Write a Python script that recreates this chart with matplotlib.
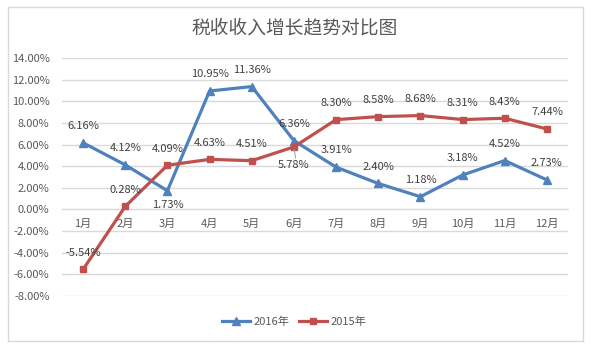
import matplotlib
matplotlib.use("Agg")
import matplotlib.pyplot as plt
from matplotlib.patches import Rectangle

plt.rcParams['font.family'] = ['Noto Sans CJK SC', 'DejaVu Sans']

months = ['1月', '2月', '3月', '4月', '5月', '6月', '7月', '8月', '9月', '10月', '11月', '12月']
y2016 = [6.16, 4.12, 1.73, 10.95, 11.36, 6.36, 3.91, 2.40, 1.18, 3.18, 4.52, 2.73]
y2015 = [-5.54, 0.28, 4.09, 4.63, 4.51, 5.78, 8.30, 8.58, 8.68, 8.31, 8.43, 7.44]
yticks = [-8, -6, -4, -2, 0, 2, 4, 6, 8, 10, 12, 14]

blue = '#4F81BD'
red = '#C0504D'
txt = '#404040'

fig = plt.figure(figsize=(5.99, 3.47), dpi=100)
ax = fig.add_axes([62/599, 1-296/347, 506/599, 238/347])

# chart border
fig.patches.append(Rectangle((8/599, 1-341/347), 575/599, 334/347, transform=fig.transFigure,
                             fill=False, edgecolor='#D9D9D9', linewidth=1))

x = list(range(len(months)))
ax.plot(x, y2016, color=blue, lw=2.3, marker='^', ms=5.5, label='2016年', zorder=3)
ax.plot(x, y2015, color=red, lw=2.3, marker='s', ms=5, label='2015年', zorder=3)

ax.set_xlim(-0.5, 11.5)
ax.set_ylim(-8, 14)
ax.set_yticks(yticks)
ax.set_yticklabels(['%.2f%%' % v for v in yticks])
ax.yaxis.grid(True, color='#D9D9D9', lw=1)
ax.set_axisbelow(True)
ax.tick_params(axis='y', length=0, labelsize=8, labelcolor='#595959', pad=9)

for s in ['left', 'right', 'top']:
    ax.spines[s].set_visible(False)
ax.spines['bottom'].set_position(('data', 0))
ax.spines['bottom'].set_color('#D9D9D9')
ax.set_xticks(x)
ax.set_xticklabels(months)
ax.tick_params(axis='x', length=0, labelsize=8, labelcolor='#595959', pad=7)

# data labels
for i, v in enumerate(y2016):
    off = 12
    if i == 2:
        off = -10
    ax.annotate('%.2f%%' % v, (i, v), xytext=(0, off), textcoords='offset points',
                ha='center', va='center', fontsize=8, color=txt)
for i, v in enumerate(y2015):
    off = 12
    if i == 5:
        off = -13
        # leader line from the label up to the point
        ax.annotate('', (i, v), xytext=(i + 0.05, v - 1.3),
                    arrowprops=dict(arrowstyle='-', color='#A6A6A6', lw=0.8))
    ax.annotate('%.2f%%' % v, (i, v), xytext=(0, off), textcoords='offset points',
                ha='center', va='center', fontsize=8, color=txt)

fig.text(294.5/599, 1-28/347, '税收收入增长趋势对比图', ha='center', va='center',
         fontsize=13.5, color='#595959')

fig.legend(loc='center', bbox_to_anchor=(294/599, 1-322/347), ncol=2, frameon=False,
           fontsize=8, handlelength=2.6, columnspacing=0.8, handletextpad=0.3,
           labelcolor='#595959')

fig.savefig('out.png', dpi=100)
